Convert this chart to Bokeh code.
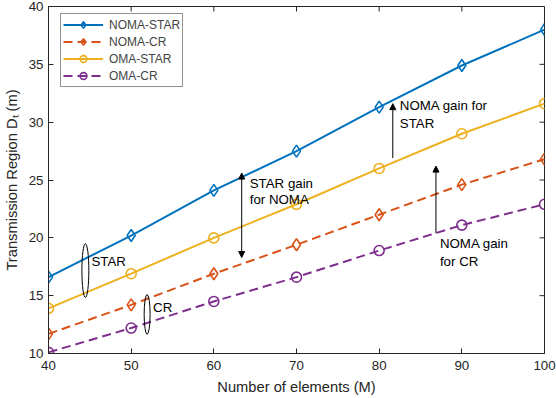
from bokeh.plotting import figure
from bokeh.models import (Range1d, Legend, LegendItem, Arrow, NormalHead,
                          ColumnDataSource, FixedTicker)
from bokeh.core.properties import value
from bokeh.embed import file_html
from bokeh.resources import INLINE

# ---------------- data ----------------
elements = [40, 50, 60, 70, 80, 90, 100]
noma_star = [16.6, 20.2, 24.1, 27.5, 31.3, 34.9, 38.0]
noma_cr = [11.7, 14.2, 16.9, 19.4, 22.0, 24.6, 26.8]
oma_star = [13.9, 16.9, 20.0, 22.9, 26.0, 29.0, 31.6]
oma_cr = [10.1, 12.2, 14.5, 16.6, 18.9, 21.1, 22.9]

x_ticks = [40, 50, 60, 70, 80, 90, 100]
y_ticks = [10, 15, 20, 25, 30, 35, 40]

series_names = ["NOMA-STAR", "NOMA-CR", "OMA-STAR", "OMA-CR"]
series_values = [noma_star, noma_cr, oma_star, oma_cr]
series_colors = ["#0072BD", "#D95319", "#EDB120", "#7E2F8E"]
series_dash = ["solid", "9 5", "solid", "9 5"]
series_marker = ["diamond", "diamond", "circle", "circle"]

# annotations (data coordinates)
ell_x = [44.46, 51.93]
ell_y = [17.17, 13.38]
ell_w = [0.84, 0.72]
ell_h = [4.65, 3.44]
ann_text = ["STAR", "CR", "STAR gain", "for NOMA", "NOMA gain for", "STAR", "NOMA gain", "for CR"]
ann_x = [45.2, 52.65, 64.34, 64.34, 82.5, 82.5, 87.35, 87.35]
ann_y = [17.94, 14.0, 24.66, 23.3, 31.4, 29.85, 19.5, 17.95]

FONT = "Liberation Sans"
AX = "#262626"
W, H = 556, 398
B_LEFT, B_RIGHT, B_TOP, B_BOTTOM = 46, 12, 6, 45
FRAME_W = W - B_LEFT - B_RIGHT
FRAME_H = H - B_TOP - B_BOTTOM
X0, X1, Y0, Y1 = 40, 100, 10, 40
TICK_PX = 5

p = figure(width=W, height=H, output_backend="svg", toolbar_location=None,
           x_range=Range1d(X0, X1), y_range=Range1d(Y0, Y1),
           min_border_left=B_LEFT, min_border_right=B_RIGHT,
           min_border_top=B_TOP, min_border_bottom=B_BOTTOM)
p.xgrid.visible = False
p.ygrid.visible = False
p.outline_line_color = AX
p.outline_line_width = 1
p.background_fill_color = "white"
p.border_fill_color = "white"

def style_axis(ax, ticks):
    ax.ticker = FixedTicker(ticks=ticks)
    ax.major_tick_in = TICK_PX
    ax.major_tick_out = 0
    ax.minor_tick_line_color = None
    ax.axis_line_color = AX
    ax.major_tick_line_color = AX
    ax.major_label_text_color = AX
    ax.major_label_text_font = FONT
    ax.major_label_text_font_size = "13.3px"
    ax.axis_label_text_font = FONT
    ax.axis_label_text_font_size = "14.7px"
    ax.axis_label_text_font_style = "normal"
    ax.axis_label_text_color = AX

style_axis(p.xaxis[0], x_ticks)
style_axis(p.yaxis[0], y_ticks)
p.xaxis[0].axis_label = "Number of elements (M)"
p.yaxis[0].axis_label = "Transmission Region D\u209c (m)"
p.xaxis[0].major_label_standoff = 7
p.xaxis[0].axis_label_standoff = 6
p.yaxis[0].major_label_standoff = 5
p.yaxis[0].axis_label_standoff = 6

# inward ticks on the top and right edges of the box
dy = TICK_PX * (Y1 - Y0) / FRAME_H
dx = TICK_PX * (X1 - X0) / FRAME_W
p.segment(x0=x_ticks, y0=[Y1] * len(x_ticks), x1=x_ticks, y1=[Y1 - dy] * len(x_ticks),
          line_color=AX, line_width=1)
p.segment(x0=[X1] * len(y_ticks), y0=y_ticks, x1=[X1 - dx] * len(y_ticks), y1=y_ticks,
          line_color=AX, line_width=1)

items = []
for name, vals, col, dash, mk in zip(series_names, series_values, series_colors,
                                     series_dash, series_marker):
    src = ColumnDataSource(dict(x=elements, y=vals))
    r1 = p.line("x", "y", source=src, line_color=col, line_width=2, line_dash=dash)
    size = 12 if mk == "diamond" else 10
    r2 = p.scatter("x", "y", source=src, marker=mk, size=size, line_color=col,
                   line_width=1.6, fill_color=None)
    items.append(LegendItem(label=name, renderers=[r1, r2]))

LEG_H = 4 * 17 + 2 * 2
legend = Legend(items=items, location=(12, FRAME_H - 9 - LEG_H), padding=2, spacing=0,
                glyph_width=40, glyph_height=17, label_height=17, label_standoff=6,
                label_text_font=FONT, label_text_font_size="12px",
                border_line_color=AX, border_line_width=1,
                background_fill_color="white", background_fill_alpha=1.0)
p.add_layout(legend, "center")

# ellipses
p.ellipse(x=ell_x, y=ell_y, width=ell_w, height=ell_h, fill_color=None,
          line_color="black", line_width=1)

# arrows
head = dict(size=6, fill_color="black", line_color="black", line_width=1)
p.add_layout(Arrow(start=NormalHead(**head), end=NormalHead(**head),
                   x_start=63.37, y_start=18.3, x_end=63.37, y_end=25.6,
                   line_color="black", line_width=1))
p.add_layout(Arrow(end=NormalHead(**head), x_start=81.65, y_start=26.9,
                   x_end=81.65, y_end=31.6, line_color="black", line_width=1))
p.add_layout(Arrow(end=NormalHead(**head), x_start=86.87, y_start=20.4,
                   x_end=86.87, y_end=26.2, line_color="black", line_width=1))

p.text(x=ann_x, y=ann_y, text=ann_text, text_font=value(FONT), text_font_size="13.3px",
       text_baseline="middle", text_align="left", text_color="black")

html = file_html(p, INLINE)
html = html.replace("<body>", '<body style="margin:0">', 1)
open("out.html", "w").write(html)
